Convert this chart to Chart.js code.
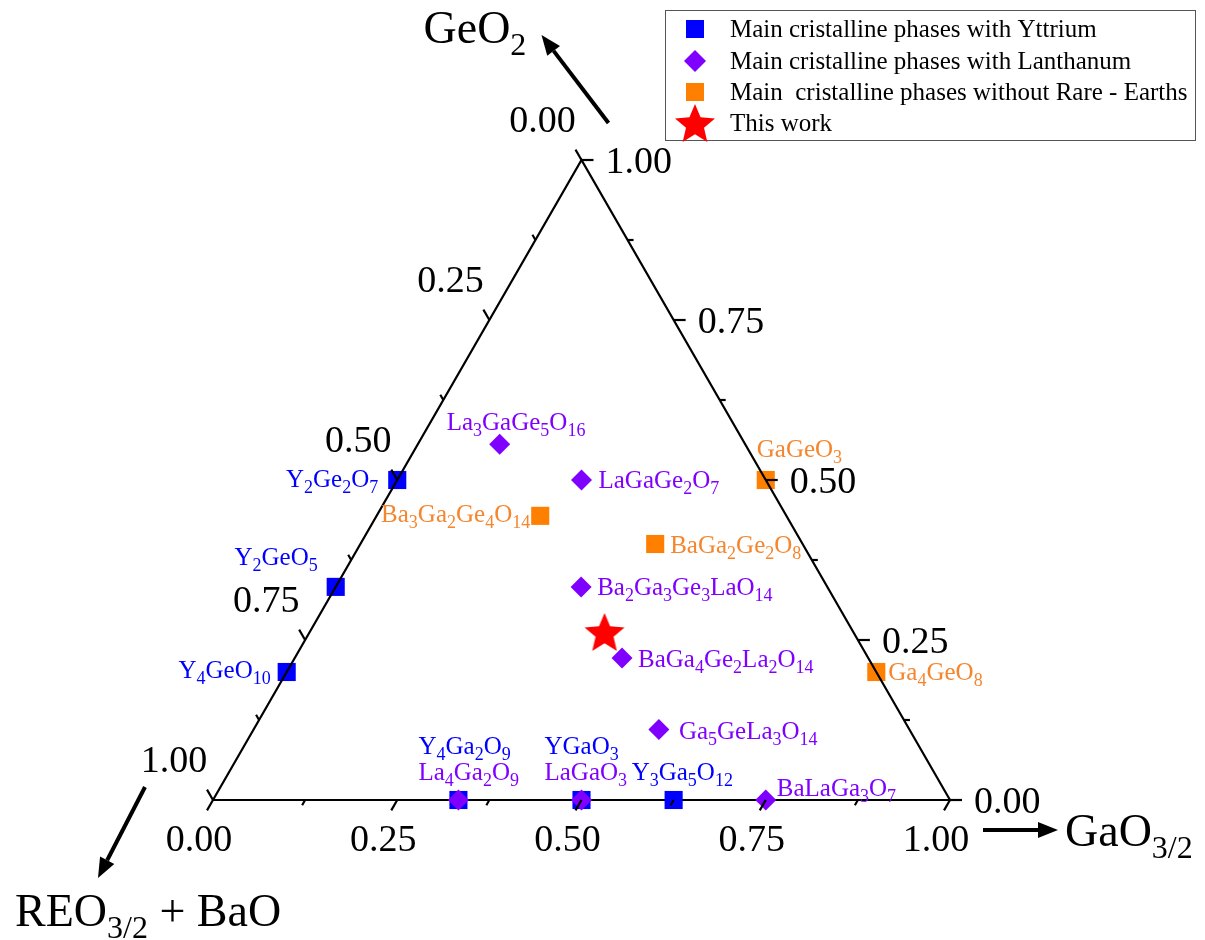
<!DOCTYPE html>
<html>
<head>
<meta charset="utf-8">
<script src="https://cdn.jsdelivr.net/npm/chart.js@4.4.0/dist/chart.umd.min.js"></script>
<style>
  body { margin: 0; background: #fff; }
  #wrap { width: 1205px; height: 940px; position: relative; }
</style>
</head>
<body>
<div id="wrap"><canvas id="chart"></canvas></div>
<script>
// compositions: GaO3/2 fraction and GeO2 fraction
const yNames = ['Y2Ge2O7', 'Y2GeO5', 'Y4GeO10', 'Y4Ga2O9', 'YGaO3', 'Y3Ga5O12'];
const yGa = [0, 0, 0, 0.333, 0.5, 0.625];
const yGe = [0.5, 0.333, 0.2, 0, 0, 0];

const laNames = ['La3GaGe5O16', 'LaGaGe2O7', 'Ba2Ga3Ge3LaO14', 'BaGa4Ge2La2O14', 'Ga5GeLa3O14', 'La4Ga2O9', 'LaGaO3', 'BaLaGa3O7'];
const laGa = [0.111, 0.25, 0.333, 0.444, 0.55, 0.333, 0.5, 0.75];
const laGe = [0.556, 0.5, 0.333, 0.222, 0.11, 0, 0, 0];

const freeNames = ['GaGeO3', 'Ba3Ga2Ge4O14', 'BaGa2Ge2O8', 'Ga4GeO8'];
const freeGa = [0.5, 0.222, 0.4, 0.8];
const freeGe = [0.5, 0.444, 0.4, 0.2];

const workGa = [0.40];
const workGe = [0.2625];

const legendLabels = [
  'Main cristalline phases with Yttrium',
  'Main cristalline phases with Lanthanum',
  'Main  cristalline phases without Rare - Earths',
  'This work'
];
const tickValues = [0, 0.25, 0.5, 0.75, 1];
const tickLabels = ['0.00', '0.25', '0.50', '0.75', '1.00'];

// label placement (offset from the marker, px)
const yLabelPos = [[-19, 7, 'right'], [-18, -22, 'right'], [-16, 6, 'right'], [-40, -46, 'left'], [-37, -46, 'left'], [-42, -20, 'left']];
const laLabelPos = [[-53, -14, 'left'], [17, 8, 'left'], [16, 8, 'left'], [16, 9, 'left'], [20, 9, 'left'], [-40, -20, 'left'], [-37, -20, 'left'], [11, -4, 'left']];
const freeLabelPos = [[-9, -23, 'left'], [-10, 6, 'right'], [15, 9, 'left'], [12, 8, 'left']];

const BLUE = '#0000ff', PURPLE = '#7f00ff', ORANGE = '#ff8000', RED = '#ff0000';
const SERIF = '"Liberation Serif", "Times New Roman", serif';

// ternary -> cartesian (x along the Ga axis, y = Ge fraction)
const toXY = (ga, ge) => ga.map((g, i) => ({ x: g + ge[i] / 2, y: ge[i] }));

function makeStar(size, color) {
  const c = document.createElement('canvas');
  c.width = size; c.height = size;
  const g = c.getContext('2d');
  const R = size / 2, r = R * 0.45;
  g.beginPath();
  for (let i = 0; i < 10; i++) {
    const a = -Math.PI / 2 + i * Math.PI / 5;
    const rad = i % 2 ? r : R;
    g.lineTo(R + rad * Math.cos(a), R + rad * Math.sin(a) + R * 0.09);
  }
  g.closePath();
  g.fillStyle = color;
  g.fill();
  return c;
}
const star = makeStar(42, RED);

// text where digits and "/" are subscripts
function drawChem(ctx, str, x, y, size, color, align) {
  const parts = str.match(/[0-9\/]+|[^0-9\/]+/g);
  const sub = Math.round(size * 0.7);
  let w = 0;
  parts.forEach(p => {
    ctx.font = (/^[0-9\/]/.test(p) ? sub : size) + 'px ' + SERIF;
    w += ctx.measureText(p).width;
  });
  let cx = align === 'right' ? x - w : align === 'center' ? x - w / 2 : x;
  ctx.textAlign = 'left';
  ctx.textBaseline = 'alphabetic';
  ctx.fillStyle = color;
  parts.forEach(p => {
    const isSub = /^[0-9\/]/.test(p);
    ctx.font = (isSub ? sub : size) + 'px ' + SERIF;
    ctx.fillText(p, cx, y + (isSub ? size * 0.25 : 0));
    cx += ctx.measureText(p).width;
  });
}

function arrow(ctx, x1, y1, x2, y2) {
  const a = Math.atan2(y2 - y1, x2 - x1);
  const hl = 20, hw = 8;
  const bx = x2 - hl * Math.cos(a), by = y2 - hl * Math.sin(a);
  ctx.strokeStyle = '#000';
  ctx.fillStyle = '#000';
  ctx.lineWidth = 4;
  ctx.beginPath();
  ctx.moveTo(x1, y1);
  ctx.lineTo(bx, by);
  ctx.stroke();
  ctx.beginPath();
  ctx.moveTo(x2, y2);
  ctx.lineTo(bx + hw * Math.sin(a), by - hw * Math.cos(a));
  ctx.lineTo(bx - hw * Math.sin(a), by + hw * Math.cos(a));
  ctx.closePath();
  ctx.fill();
}

const P = (chart, ga, ge) => ({
  x: chart.scales.x.getPixelForValue(ga + ge / 2),
  y: chart.scales.y.getPixelForValue(ge)
});

function tick(ctx, p, dx, dy, len) {
  ctx.beginPath();
  ctx.moveTo(p.x, p.y);
  ctx.lineTo(p.x + dx * len, p.y + dy * len);
  ctx.stroke();
}

const ternary = {
  id: 'ternary',
  beforeDatasetsDraw(chart) {
    const ctx = chart.ctx;
    ctx.save();
    ctx.strokeStyle = '#000';
    ctx.lineWidth = 2.2;
    const a = P(chart, 0, 0), b = P(chart, 1, 0);
    ctx.beginPath();
    ctx.moveTo(a.x, a.y);
    ctx.lineTo(b.x, b.y);
    ctx.stroke();
    ctx.restore();
  },
  afterDatasetsDraw(chart) {
    const ctx = chart.ctx;
    ctx.save();
    ctx.strokeStyle = '#000';
    ctx.lineWidth = 2.2;
    const L = P(chart, 0, 0), R = P(chart, 1, 0), T = P(chart, 0, 1);
    ctx.beginPath();
    ctx.moveTo(L.x, L.y);
    ctx.lineTo(T.x, T.y);
    ctx.lineTo(R.x, R.y);
    ctx.stroke();

    // ticks every 0.125, longer on the labelled ones
    const s3 = Math.sqrt(3) / 2;
    for (let k = 0; k <= 8; k++) {
      const t = k / 8;
      const len = k % 2 ? 6 : 12;
      tick(ctx, P(chart, t, 0), -0.5, s3, len);       // GaO3/2 axis
      tick(ctx, P(chart, 1 - t, t), 1, 0, len);       // GeO2 axis
      tick(ctx, P(chart, 0, 1 - t), -0.5, -s3, len);  // REO3/2 + BaO axis
    }

    ctx.fillStyle = '#000';
    ctx.font = '38px ' + SERIF;
    ctx.textBaseline = 'alphabetic';
    tickValues.forEach((t, i) => {
      const b = P(chart, t, 0);
      ctx.textAlign = 'center';
      ctx.fillText(tickLabels[i], b.x - 14, b.y + 51);
      const r = P(chart, 1 - t, t);
      ctx.textAlign = 'left';
      ctx.fillText(tickLabels[i], r.x + 24, r.y + 13);
      const l = P(chart, 0, 1 - t);
      ctx.textAlign = 'center';
      ctx.fillText(tickLabels[i], l.x - 39, l.y - 28);
    });

    // point labels
    const groups = [
      [0, yNames, yLabelPos, BLUE],
      [1, laNames, laLabelPos, PURPLE],
      [2, freeNames, freeLabelPos, '#f5862e']
    ];
    groups.forEach(([di, names, pos, color]) => {
      chart.getDatasetMeta(di).data.forEach((el, j) => {
        drawChem(ctx, names[j], el.x + pos[j][0], el.y + pos[j][1], 25, color, pos[j][2]);
      });
    });

    // axis arrows and titles
    arrow(ctx, T.x + 27, T.y - 37, T.x - 40, T.y - 125);
    arrow(ctx, R.x + 33, R.y + 30, R.x + 108, R.y + 30);
    arrow(ctx, L.x - 68, L.y - 13, L.x - 115, L.y + 78);
    drawChem(ctx, 'GeO2', T.x - 158, T.y - 117, 46, '#000', 'left');
    drawChem(ctx, 'GaO3/2', R.x + 115, R.y + 46, 46, '#000', 'left');
    drawChem(ctx, 'REO3/2 + BaO', L.x - 198, L.y + 126, 46, '#000', 'left');

    // legend box
    ctx.lineWidth = 1;
    ctx.strokeStyle = '#555';
    ctx.strokeRect(665.5, 10.5, 530, 130);
    const rowY = [29, 61, 92, 123];
    chart.data.datasets.forEach((ds, i) => {
      const cy = rowY[i], cx = 695;
      ctx.fillStyle = ds.backgroundColor;
      if (ds.pointStyle === 'rect') {
        ctx.fillRect(cx - 9, cy - 9, 18, 18);
      } else if (ds.pointStyle === 'rectRot') {
        ctx.beginPath();
        ctx.moveTo(cx, cy - 11); ctx.lineTo(cx + 11, cy); ctx.lineTo(cx, cy + 11); ctx.lineTo(cx - 11, cy);
        ctx.closePath(); ctx.fill();
      } else {
        ctx.drawImage(star, cx - 21, cy - 21);
      }
      ctx.fillStyle = '#000';
      ctx.font = '25px ' + SERIF;
      ctx.textAlign = 'left';
      ctx.textBaseline = 'middle';
      ctx.fillText(ds.label, 730, cy + 1);
    });
    ctx.restore();
  }
};

const common = { showLine: false, borderWidth: 0, clip: false };

new Chart(document.getElementById('chart'), {
  type: 'scatter',
  data: {
    datasets: [
      Object.assign({ label: legendLabels[0], data: toXY(yGa, yGe), pointStyle: 'rect', pointRadius: 12.8,
        backgroundColor: BLUE, borderColor: BLUE, order: 2 }, common),
      Object.assign({ label: legendLabels[1], data: toXY(laGa, laGe), pointStyle: 'rectRot', pointRadius: 10.5,
        backgroundColor: PURPLE, borderColor: PURPLE, order: 1 }, common),
      Object.assign({ label: legendLabels[2], data: toXY(freeGa, freeGe), pointStyle: 'rect', pointRadius: 12.8,
        backgroundColor: ORANGE, borderColor: ORANGE, order: 1 }, common),
      Object.assign({ label: legendLabels[3], data: toXY(workGa, workGe), pointStyle: star, pointRadius: 21,
        backgroundColor: RED, borderColor: RED, order: 0 }, common)
    ]
  },
  options: {
    responsive: true,
    maintainAspectRatio: false,
    animation: false,
    layout: { padding: { left: 213, right: 255, top: 160, bottom: 140 } },
    scales: {
      x: { type: 'linear', min: 0, max: 1, display: false },
      y: { type: 'linear', min: 0, max: 1, display: false }
    },
    plugins: {
      legend: { display: false },
      tooltip: { enabled: false }
    }
  },
  plugins: [ternary]
});
</script>
</body>
</html>
